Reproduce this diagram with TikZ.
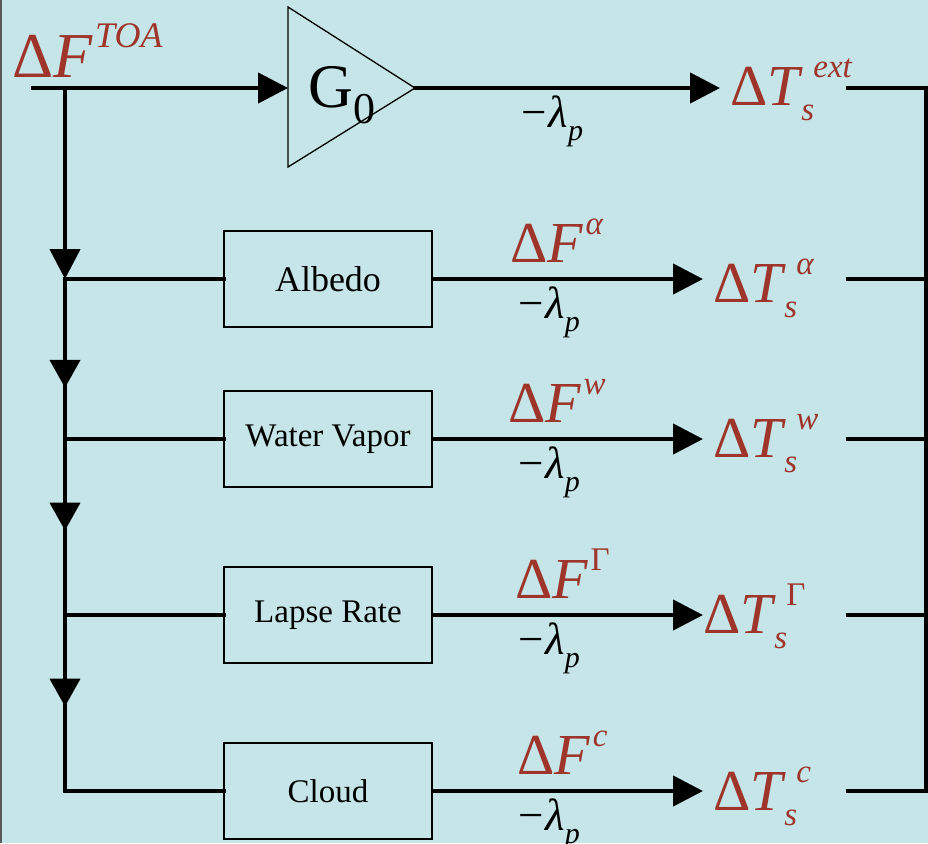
\documentclass[tikz,border=0pt]{standalone}
\usepackage{fontspec}
\setmainfont{Liberation Serif}
\usepackage{tikz}
\usetikzlibrary{arrows.meta,calc,positioning,decorations.markings}
\definecolor{bgc}{RGB}{197,229,232}
\definecolor{tred}{RGB}{158,52,42}
\newcommand{\supf}[1]{\raisebox{14pt}{\fontsize{16.5}{17}\selectfont #1}}
\newcommand{\subf}[1]{\raisebox{-7.5pt}{\fontsize{16.5}{17}\selectfont #1}}
\newcommand{\dF}[1]{Δ\textit{F}\kern1pt\supf{#1}}
\newcommand{\dT}[1]{Δ\textit{T}\rlap{\kern-1pt\subf{\textit{s}}}\kern5pt\supf{#1}}
\newcommand{\lamp}{−\kern1pt\textit{λ}\raisebox{-6.5pt}{\fontsize{15}{15}\selectfont\textit{p}}}

\begin{document}
\begin{tikzpicture}[x=0.5pt,y=-0.5pt,
  wire/.style={line width=2.25pt,line cap=rect},
  flow/.style={wire,-{Triangle[length=15pt,width=15pt]}},
  midarrow/.style={postaction={decorate},decoration={markings,
      mark=at position #1 with {\arrow{Triangle[length=14pt,width=15pt]}}}},
  fbox/.style={draw,line width=0.75pt,minimum width=104pt,minimum height=48pt,
      font=\fontsize{16.5}{20}\selectfont},
  tlab/.style={tred,inner ysep=0pt,inner xsep=5pt,anchor=base west,
      font=\fontsize{29}{34}\selectfont},
  flab/.style={tred,inner sep=0pt,font=\fontsize{29}{34}\selectfont},
  llab/.style={inner sep=0pt,font=\fontsize{22.5}{26}\selectfont}]
  % background and frame
  \fill[bgc] (0,0) rectangle (928,843);
  \useasboundingbox (0,0) rectangle (928,843);
  \draw[gray!70!black,line width=0.6pt] (1,0) -- (1,843);

  % input and gain
  \node[flab,anchor=base west,font=\fontsize{32}{38}\selectfont] (dFtoa) at (12,77)
    {Δ\textit{F}\kern1pt\raisebox{15pt}{\fontsize{18}{18}\selectfont\textit{TOA}}};
  \coordinate (in) at (33,88);
  \coordinate (j0) at (65,88);
  \coordinate (gin) at (288,88);
  \coordinate (gout) at (415,88);
  \draw[line width=0.65pt] (288,7) -- (gout) -- (288,167) -- cycle;
  \node[anchor=base west,inner sep=0pt,font=\fontsize{31}{36}\selectfont] (gain) at (308,107)
    {G\raisebox{-8pt}{\fontsize{22}{22}\selectfont 0}};
  \node[tlab] (Text) at (720,105) {\dT{\textit{ext}}};
  \coordinate (o0) at (848,88);
  \coordinate (rc) at (926,791);

  % feedback blocks
  \node[fbox,font=\fontsize{18}{22}\selectfont] (albedo) at (328,279) {Albedo};
  \node[fbox] (vapor) at (328,439) {Water Vapor};
  \node[fbox] (lapse) at (328,615) {Lapse Rate};
  \node[fbox] (cloud) at (328,791) {Cloud};

  \node[tlab] (Ta) at (703,302) {\dT{\textit{α}}};
  \node[tlab] (Tw) at (703,457) {\dT{\textit{w}}};
  \node[tlab,inner xsep=0pt] (Tg) at (703,633) {\dT{Γ}};
  \node[tlab] (Tc) at (703,810) {\dT{\textit{c}}};

  \coordinate (ja) at (65,279);
  \coordinate (jw) at (65,439);
  \coordinate (jg) at (65,615);
  \coordinate (jc) at (65,791);
  \coordinate (oa) at (848,279);
  \coordinate (ow) at (848,439);
  \coordinate (og) at (848,615);
  \coordinate (oc) at (848,791);

  % top path
  \draw[flow] (in) -- (gin);
  \draw[flow] (gout) -- (gout -| Text.west)
    node[llab,pos=0.45,below=3pt] (l0) {\lamp};
  \draw[wire] (o0) -| (rc);

  % left rail
  \draw[flow] (j0) -- (ja);
  \draw[wire,midarrow=0.68] (ja) -- (jw);
  \draw[wire,midarrow=0.52] (jw) -- (jg);
  \draw[wire,midarrow=0.52] (jg) -- (jc);
  \draw[wire] (ja) -- (albedo);
  \draw[wire] (jw) -- (vapor);
  \draw[wire] (jg) -- (lapse);
  \draw[wire] (jc) -- (cloud);

  % block outputs
  \draw[flow] (albedo) -- (albedo -| Ta.west)
    node[flab,pos=0.46,above=7pt] (Fa) {\dF{\textit{α}}}
    node[llab,pos=0.43,below=3pt] (la) {\lamp};
  \draw[flow] (vapor) -- (vapor -| Tw.west)
    node[flab,pos=0.46,above=7pt] (Fw) {\dF{\textit{w}}}
    node[llab,pos=0.43,below=3pt] (lw) {\lamp};
  \draw[flow] (lapse) -- (lapse -| Tg.west)
    node[flab,pos=0.48,above=7pt] (Fg) {\dF{Γ}}
    node[llab,pos=0.43,below=3pt] (lg) {\lamp};
  \draw[flow] (cloud) -- (cloud -| Tc.west)
    node[flab,pos=0.48,above=7pt] (Fc) {\dF{\textit{c}}}
    node[llab,pos=0.43,below=3pt] (lc) {\lamp};

  % to the right rail
  \draw[wire] (oa) -- (oa -| rc);
  \draw[wire] (ow) -- (ow -| rc);
  \draw[wire] (og) -- (og -| rc);
  \draw[wire] (oc) -- (oc -| rc);
\end{tikzpicture}
\end{document}
